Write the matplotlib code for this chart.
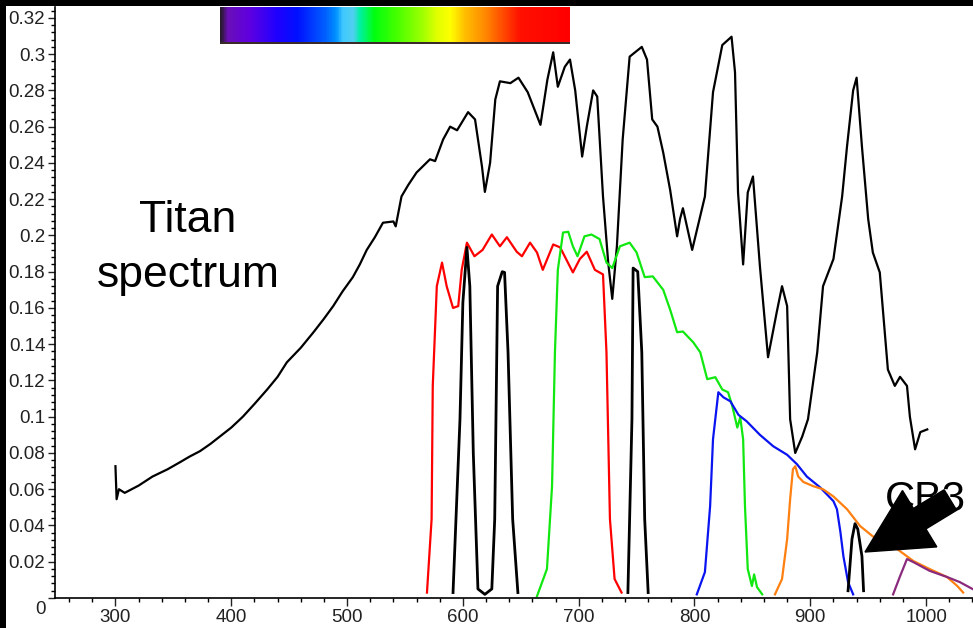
import numpy as np
import matplotlib
matplotlib.use("Agg")
import matplotlib.pyplot as plt
from matplotlib.colors import LinearSegmentedColormap
from matplotlib.patches import Rectangle, Polygon
from matplotlib.ticker import MultipleLocator
from matplotlib.transforms import ScaledTranslation

plt.rcParams['font.family'] = ['Liberation Sans', 'DejaVu Sans']

# Titan spectrum (wavelength nm, reflectance)
titan_wl = [300, 301, 303, 308, 320, 332, 345, 356, 364, 373, 382, 390, 400, 410, 420, 431,
            440, 448, 460, 471, 480, 488, 496, 505, 511, 517, 524, 531, 540, 542, 547, 553,
            560, 571.6, 576, 583, 589, 595, 604.5, 610.5, 616.5, 619,
            623.5, 628, 632, 641, 648, 656, 667, 673, 678, 682, 688, 692.5, 697, 703, 707,
            712.5, 716, 721, 725.5, 729, 733, 738, 744, 754.5, 759, 763.5, 768, 773, 779,
            785, 787.5, 790, 798, 809, 816, 824, 832, 835, 837.6, 842, 846, 850.5, 856.5,
            863.5, 871, 875.6, 880, 882.6, 887, 893, 898, 906, 911, 920, 927.5, 931.7, 937,
            940, 944.6, 950, 954, 960, 967, 973, 977.5, 983.5, 986, 990.5, 995, 1001]
titan_r = [0.0727, 0.0545, 0.060, 0.058, 0.062, 0.067, 0.071, 0.075, 0.078, 0.081, 0.085,
           0.089, 0.094, 0.100, 0.107, 0.115, 0.122, 0.130, 0.138, 0.1466, 0.154, 0.161,
           0.169, 0.177, 0.184, 0.192, 0.199, 0.207, 0.2077, 0.205, 0.2215, 0.228, 0.2347,
           0.242, 0.241,
           0.253, 0.260, 0.258, 0.268, 0.264, 0.238, 0.224, 0.240, 0.275, 0.285, 0.284,
           0.287, 0.279, 0.261, 0.286, 0.301, 0.282, 0.293, 0.297, 0.280, 0.2435, 0.260,
           0.280, 0.2766, 0.2215, 0.185, 0.165, 0.194, 0.253, 0.2986, 0.304, 0.297, 0.264,
           0.260, 0.2457, 0.225, 0.1995, 0.209, 0.215, 0.192, 0.2215, 0.279, 0.305, 0.3096,
           0.290, 0.2237, 0.184, 0.2237, 0.2325, 0.183, 0.1328, 0.1576, 0.172, 0.161,
           0.0986, 0.080, 0.089, 0.0986, 0.1355, 0.172, 0.187, 0.2215, 0.249, 0.280, 0.287,
           0.249, 0.209, 0.1906, 0.1796, 0.126, 0.117, 0.122, 0.117, 0.100, 0.082, 0.0915,
           0.093]

# broad filters
red_wl = [569, 573, 574, 577.5, 582, 586, 591.5, 596, 599, 603.5, 610, 617, 625, 632, 638,
          646.5, 651, 658, 664, 669, 678, 684, 695, 701, 707, 714, 721, 724, 727, 731, 737]
red_t = [0.003, 0.0435, 0.117, 0.172, 0.185, 0.172, 0.160, 0.161, 0.181, 0.196, 0.1885,
         0.192, 0.2005, 0.194, 0.199, 0.191, 0.1885, 0.196, 0.1906, 0.181, 0.195, 0.1934,
         0.1796, 0.187, 0.191, 0.181, 0.1785, 0.1355, 0.0435, 0.0105, 0.003]

green_wl = [664, 672.6, 677, 679.5, 682, 686.5, 691, 695, 699, 705, 711, 718, 724, 729,
            735.6, 744, 750, 757, 764, 773, 779, 785, 790, 799, 805, 811, 818, 824, 829,
            832.6, 837, 839.5, 842, 843.6, 846, 849.6, 851.5, 854, 858.5]
green_t = [0.001, 0.016, 0.0617, 0.1355, 0.181, 0.2016, 0.202, 0.194, 0.1885, 0.1995,
           0.2005, 0.198, 0.185, 0.182, 0.194, 0.196, 0.1906, 0.177, 0.1774, 0.170, 0.159,
           0.1466, 0.147, 0.141, 0.1355, 0.1207, 0.1218, 0.115, 0.1135, 0.106, 0.094,
           0.0997, 0.0876, 0.0507, 0.016, 0.0066, 0.013, 0.006, 0.002]

blue_wl = [802, 809, 813.5, 816, 820.6, 825, 831, 838, 845, 856.5, 868, 880, 888.5, 897,
           908.5, 920, 923, 926, 928.6, 932.6, 937]
blue_t = [0.002, 0.0143, 0.0507, 0.0876, 0.1135, 0.1107, 0.1085, 0.101, 0.0975, 0.090,
          0.0837, 0.079, 0.0738, 0.067, 0.061, 0.0534, 0.049, 0.0364, 0.023, 0.0088, 0.002]

orange_wl = [869.5, 875.6, 880, 882.6, 885, 887, 889.6, 894, 902.5, 911, 920, 931.7, 943,
             954, 975, 989, 1003, 1018, 1027, 1032]
orange_t = [0.002, 0.0105, 0.0325, 0.0545, 0.071, 0.0727, 0.067, 0.064, 0.0617, 0.060,
            0.056, 0.049, 0.0397, 0.034, 0.027, 0.0204, 0.016, 0.0116, 0.0066, 0.003]

purple_wl = [971.5, 977.5, 983.5, 989, 1003, 1018, 1029, 1040]
purple_t = [0.002, 0.012, 0.0215, 0.0198, 0.015, 0.0116, 0.0088, 0.005]

# narrow (black) filters
nb1_wl = [591.5, 597.5, 600, 603.5, 606, 609, 613]
nb1_t = [0.003, 0.0986, 0.163, 0.1934, 0.172, 0.080, 0.005]
nb_gap_wl = [613, 619, 625]
nb_gap_t = [0.005, 0.002, 0.005]
nb2_wl = [625, 627.5, 630, 634, 636, 639, 643, 647.5]
nb2_t = [0.005, 0.0435, 0.172, 0.180, 0.1796, 0.1355, 0.0435, 0.003]
nb3_wl = [742.5, 746, 747, 751, 754.5, 757, 760]
nb3_t = [0.003, 0.0986, 0.182, 0.180, 0.1355, 0.0435, 0.003]
nb4_wl = [932.6, 936, 938.6, 941, 944.6, 946]
nb4_t = [0.004, 0.0325, 0.041, 0.038, 0.023, 0.004]

W, H = 973, 628
fig = plt.figure(figsize=(W / 100, H / 100), dpi=100, facecolor='white')
ax = fig.add_axes([55 / W, 30 / H, (W - 55) / W, (598 - 7) / H])

lw = 1.6
ax.plot(titan_wl, titan_r, color='black', lw=lw)
ax.plot(red_wl, red_t, color='#ff0000', lw=lw)
ax.plot(green_wl, green_t, color='#10e810', lw=lw)
ax.plot(blue_wl, blue_t, color='#0a14f0', lw=lw)
ax.plot(orange_wl, orange_t, color='#ff8010', lw=lw)
ax.plot(purple_wl, purple_t, color='#8a2a7c', lw=lw)
ax.plot(nb1_wl + nb_gap_wl[1:] + nb2_wl[1:], nb1_t + nb_gap_t[1:] + nb2_t[1:],
        color='black', lw=lw + 0.4)
ax.plot(nb3_wl, nb3_t, color='black', lw=lw + 0.4)
ax.plot(nb4_wl, nb4_t, color='black', lw=lw + 0.4)

ax.set_xlim(247.8, 1040.5)
ax.set_ylim(0, 0.326)
ax.xaxis.set_major_locator(MultipleLocator(100))
ax.xaxis.set_minor_locator(MultipleLocator(20))
ax.yaxis.set_minor_locator(MultipleLocator(0.004))
ax.set_yticks(np.arange(0, 0.33, 0.02))
ax.set_yticklabels(['0'] + ['%g' % v for v in np.round(np.arange(0.02, 0.33, 0.02), 2)])
ax.tick_params(axis='both', which='major', labelsize=13.5, colors='#222222',
               length=5, width=1)
ax.tick_params(axis='x', which='major', pad=2, length=6)
ax.tick_params(axis='y', which='major', pad=2)
ax.tick_params(axis='both', which='minor', length=3, width=1)
for s in ['top', 'right']:
    ax.spines[s].set_visible(False)
for s in ['left', 'bottom']:
    ax.spines[s].set_linewidth(1.2)

# the "0" label sits a little below its tick in the original
zero_lab = ax.get_yticklabels()[0]
zero_lab.set_transform(zero_lab.get_transform() + ScaledTranslation(0, -0.09, fig.dpi_scale_trans))

ax.text(362.6, 0.2017, 'Titan', fontsize=32, ha='center', va='baseline')
ax.text(362.6, 0.1713, 'spectrum', fontsize=32, ha='center', va='baseline')
ax.text(999, 0.0479, 'CB3', fontsize=30, ha='center', va='baseline', zorder=4)

# big arrow pointing at CB3 filter (pixel coords, y down)
tip = np.array([865.0, 552.0])
u = np.array([55.0, -33.5])
u /= np.linalg.norm(u)
n = np.array([-u[1], u[0]])
head_len, head_hw, tail_hw, total = 64, 33, 12, 100
base = tip + head_len * u
end = tip + total * u
pts = [tip, base + head_hw * n, base + tail_hw * n, end + tail_hw * n,
       end - tail_hw * n, base - tail_hw * n, base - head_hw * n]
pts = [(p[0] / W, 1 - p[1] / H) for p in pts]
fig.patches.append(Polygon(pts, closed=True, facecolor='black', edgecolor='black',
                           transform=fig.transFigure, figure=fig, zorder=10))

# visible spectrum colour bar
stops = [(0.0, '#2a1a30'), (0.02, '#6a10b8'), (0.08, '#6000e0'), (0.16, '#2000ff'),
         (0.22, '#0010ff'), (0.30, '#0060ff'), (0.33, '#0090ff'), (0.35, '#40c8ff'),
         (0.38, '#50d0f0'), (0.40, '#00f0a0'), (0.44, '#00ff10'), (0.50, '#40ff00'),
         (0.58, '#a0ff00'), (0.62, '#e0ff00'), (0.66, '#ffff00'), (0.70, '#ffc000'),
         (0.76, '#ff8800'), (0.82, '#ff4000'), (0.86, '#ff1000'), (1.0, '#ff0000')]
cmap = LinearSegmentedColormap.from_list('vis', stops)
bax = fig.add_axes([220 / W, (H - 44) / H, 350 / W, 37 / H])
bax.imshow(np.linspace(0, 1, 400)[None, :], cmap=cmap, aspect='auto')
bax.set_axis_off()
fig.patches.append(Rectangle((220 / W, (H - 44) / H), 350 / W, 2 / H,
                             facecolor='#3a2a2a', transform=fig.transFigure,
                             figure=fig, zorder=5))

# black frame strips on the left and top
fig.patches.append(Rectangle((0, 0), 6 / W, 1, facecolor='black',
                             transform=fig.transFigure, figure=fig, zorder=20))
fig.patches.append(Rectangle((0, 1 - 6 / H), 1, 6 / H, facecolor='black',
                             transform=fig.transFigure, figure=fig, zorder=20))

fig.savefig('out.png', dpi=100, facecolor='white')
